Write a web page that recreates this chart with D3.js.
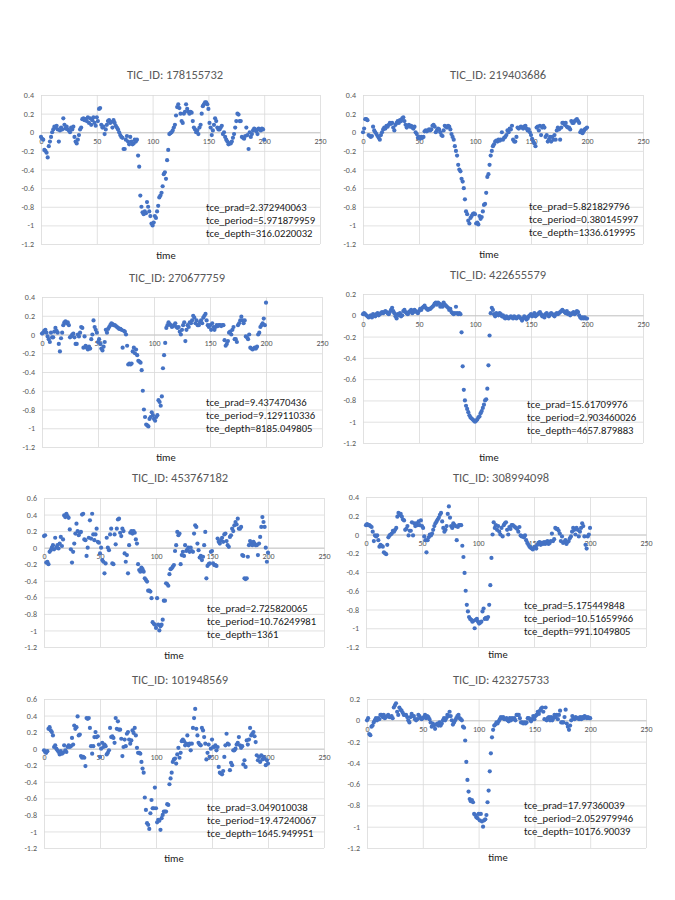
<!DOCTYPE html>
<html>
<head>
<meta charset="utf-8">
<script src="https://cdn.jsdelivr.net/npm/d3@7"></script>
<style>
body { margin: 0; background: #fff; }
text { font-family: Carlito, Calibri, Lato, "Open Sans", sans-serif; }
</style>
</head>
<body>
<script>
// chart data
var ticIds = ["178155732", "219403686", "270677759", "422655579", "453767182", "308994098", "101948569", "423275733"];
var tcePrad = ["2.372940063", "5.821829796", "9.437470436", "15.61709976", "2.725820065", "5.175449848", "3.049010038", "17.97360039"];
var tcePeriod = ["5.971879959", "0.380145997", "9.129110336", "2.903460026", "10.76249981", "10.51659966", "19.47240067", "2.052979946"];
var tceDepth = ["316.0220032", "1336.619995", "8185.049805", "4657.879883", "1361", "991.1049805", "1645.949951", "10176.90039"];

var xTicks = [0, 50, 100, 150, 200, 250];
var yTicks02 = [0.2, 0, -0.2, -0.4, -0.6, -0.8, -1, -1.2];
var yTicks04 = [0.4, 0.2, 0, -0.2, -0.4, -0.6, -0.8, -1, -1.2];
var yTicks06 = [0.6, 0.4, 0.2, 0, -0.2, -0.4, -0.6, -0.8, -1, -1.2];

var flux178155732 = [
  -0.05, -0.07, -0.08, -0.19, -0.2, -0.22, -0.27, -0.15, -0.1, -0.05,
  0.0, 0.03, 0.06, 0.05, 0.07, 0.03, -0.1, 0.02, 0.05, 0.03,
  0.15, 0.08, 0.04, 0.06, 0.03, 0.02, 0.0, 0.05, 0.03, 0.06,
  -0.05, -0.1, -0.12, -0.08, -0.03, 0.03, 0.05, 0.14, 0.15, 0.13,
  0.14, 0.12, 0.16, 0.1, 0.15, 0.08, 0.13, 0.16, 0.1, 0.07,
  0.16, 0.12, 0.25, 0.26, 0.08, 0.05, 0.06, -0.02, 0.03, 0.08,
  0.12, 0.13, 0.1, 0.11, 0.05, 0.13, 0.1, 0.07, 0.05, 0.03,
  0.0, -0.03, -0.05, -0.06, -0.18, -0.18, -0.08, -0.04, -0.1, -0.13,
  -0.05, -0.1, -0.13, -0.12, -0.08, -0.1, -0.08, -0.25, -0.37, -0.68,
  -0.8, -0.86, -0.88, -0.85, -0.87, -0.75, -0.8, -0.85, -0.9, -0.98,
  -1.0, -0.97, -0.9, -0.92, -0.85, -0.79, -0.7, -0.68, -0.65, -0.58,
  -0.45, -0.43, -0.5, -0.3, -0.19, -0.02, -0.01, 0.0, 0.02, 0.05,
  0.08, 0.18, 0.27, 0.3, 0.26, 0.2, 0.12, 0.1, 0.2, 0.22,
  0.3, 0.25, 0.22, 0.2, 0.22, 0.21, 0.12, 0.05, 0.03, 0.0,
  0.02, -0.02, 0.05, 0.08, 0.2, 0.28, 0.3, 0.32, 0.32, 0.3,
  0.25, 0.1, 0.05, -0.03, 0.02, 0.08, 0.15, 0.12, 0.05, 0.03,
  0.03, 0.05, 0.07, -0.02, 0.0, -0.05, -0.08, -0.1, -0.13, -0.12,
  -0.12, -0.1, -0.06, -0.02, 0.05, 0.12, 0.2, 0.19, 0.12, 0.12,
  -0.05, -0.06, -0.07, -0.04, 0.05, -0.03, -0.18, 0.0, -0.05, -0.02,
  0.02, 0.04, 0.03, 0.01, -0.02, 0.04, 0.03, 0.02, 0.04, 0.03,
  -0.08
];

var flux219403686 = [
  0.0, 0.04, 0.14, 0.14, 0.13, -0.03, -0.04, -0.05, -0.04, 0.06,
  0.02, 0.0, -0.02, -0.04, -0.06, -0.08, -0.03, 0.0, 0.03, 0.05,
  0.04, 0.07, 0.06, 0.08, 0.1, 0.09, 0.1, 0.05, 0.02, 0.08,
  0.1, 0.12, 0.1, 0.13, 0.12, 0.15, 0.16, 0.12, 0.08, 0.05,
  0.07, 0.08, 0.06, 0.07, 0.05, 0.04, 0.06, 0.0, -0.02, -0.06,
  -0.05, -0.07, -0.05, -0.06, -0.05, 0.01, 0.02, 0.01, 0.02, 0.03,
  0.02, 0.03, 0.07, 0.08, 0.06, 0.0, 0.02, 0.04, 0.03, 0.0,
  -0.03, -0.04, 0.02, 0.07, 0.06, 0.05, 0.07, 0.06, 0.03, -0.02,
  -0.05, -0.08, -0.15, -0.2, -0.25, -0.35, -0.4, -0.42, -0.5, -0.53,
  -0.6, -0.72, -0.85, -0.88, -0.95, -0.98, -0.92, -0.9, -0.88, -0.87,
  -0.88, -0.98, -0.97, -0.99, -0.9, -0.93, -0.91, -0.85, -0.78, -0.77,
  -0.65, -0.48, -0.45, -0.35, -0.25, -0.2, -0.15, -0.13, -0.1, -0.09,
  -0.1, -0.08, -0.09, -0.08, 0.0, -0.08, -0.06, -0.05, -0.03, 0.02,
  0.0, 0.04, 0.03, 0.07, -0.08, -0.1, -0.1, -0.05, 0.05, 0.04,
  0.05, 0.06, 0.05, 0.04, 0.06, 0.07, 0.04, 0.02, 0.03, 0.0,
  -0.03, -0.07, -0.1, -0.12, -0.15, 0.05, 0.06, 0.02, 0.07, -0.03,
  0.05, 0.07, 0.05, -0.05, -0.03, -0.1, -0.08, -0.05, -0.1, -0.05,
  -0.08, -0.03, -0.08, 0.02, 0.05, 0.03, -0.08, 0.05, 0.1, 0.1,
  0.08, 0.1, 0.06, 0.05, 0.05, 0.03, 0.12, 0.1, 0.1, 0.12,
  0.13, 0.14, 0.12, 0.1, 0.0, 0.02, -0.01, 0.01, 0.03, 0.04,
  0.05
];

var flux270677759 = [
  0.01, 0.02, 0.04, 0.05, 0.02, -0.02, -0.05, -0.08, 0.02, -0.03,
  -0.03, 0.03, 0.07, 0.04, 0.02, -0.1, -0.18, -0.04, 0.02, 0.1,
  0.13, 0.14, 0.12, 0.13, 0.1, -0.03, -0.02, 0.0, 0.01, -0.03,
  -0.1, -0.1, 0.0, -0.02, 0.02, 0.08, 0.07, -0.14, -0.02, -0.12,
  -0.14, -0.16, -0.13, -0.15, -0.05, 0.0, 0.15, 0.08, 0.05, 0.02,
  -0.08, -0.05, -0.1, -0.15, -0.17, -0.13, -0.08, 0.05, 0.02, 0.06,
  0.08, 0.1, 0.12, 0.11, 0.1, 0.1, 0.09, 0.08, 0.07, 0.06,
  0.06, 0.05, -0.14, 0.04, 0.03, 0.0, -0.12, -0.32, -0.31, -0.32,
  -0.31, -0.18, -0.14, -0.2, -0.16, -0.22, -0.28, -0.29, -0.3, -0.38,
  -0.6, -0.8, -0.88, -0.96, -0.97, -0.98, -0.9, -0.88, -0.83, -0.86,
  -0.9, -0.92, -0.88, -0.86, -0.7, -0.72, -0.76, -0.66, -0.36, -0.22,
  -0.09, 0.07, 0.1, 0.13, 0.11, 0.1, 0.08, 0.09, 0.1, 0.12,
  0.08, 0.07, 0.08, 0.03, 0.0, 0.05, 0.1, 0.13, -0.07, 0.05,
  0.1, 0.08, 0.13, 0.12, 0.15, 0.2, 0.18, 0.12, 0.15, 0.1,
  0.1, 0.13, 0.15, 0.12, 0.18, 0.2, 0.22, 0.15, 0.1, 0.08,
  0.1, 0.05, 0.12, 0.08, 0.05, 0.08, 0.1, 0.09, 0.1, 0.1,
  0.09, 0.1, 0.1, -0.06, -0.12, -0.1, -0.07, 0.02, 0.03, 0.0,
  0.05, 0.08, -0.05, -0.05, -0.08, 0.1, 0.12, 0.15, 0.19, 0.15,
  0.12, 0.15, -0.02, -0.03, -0.05, 0.0, -0.14, -0.15, -0.16, -0.15,
  -0.14, -0.15, -0.13, 0.0, 0.02, 0.08, 0.1, 0.12, 0.17, 0.1,
  0.34
];

var flux422655579 = [
  0.01, 0.02, 0.01, 0.0, -0.01, -0.02, -0.01, 0.0, -0.02, 0.01,
  0.0, -0.01, 0.01, 0.02, 0.0, 0.01, 0.02, 0.03, 0.02, 0.03,
  0.04, 0.03, 0.02, 0.01, 0.03, 0.05, 0.07, 0.04, 0.02, -0.01,
  -0.03, 0.01, 0.0, 0.02, -0.01, 0.0, 0.04, 0.05, 0.03, 0.02,
  0.01, 0.03, 0.04, 0.05, 0.02, 0.03, 0.05, 0.04, 0.03, 0.02,
  0.04, 0.06, 0.05, 0.07, 0.08, 0.09, 0.07, 0.06, 0.05, 0.06,
  0.06, 0.07, 0.08, 0.09, 0.11, 0.12, 0.1, 0.12, 0.11, 0.08,
  0.1, 0.08, 0.12, 0.1, 0.09, 0.08, 0.07, 0.05, 0.06, 0.03,
  0.02, 0.01, 0.02, 0.08, 0.02, 0.01, 0.02, 0.01, -0.16, -0.48,
  -0.7, -0.8, -0.85, -0.88, -0.91, -0.94, -0.96, -0.97, -0.98, -0.99,
  -1.0, -0.99, -0.98, -0.96, -0.95, -0.92, -0.9, -0.87, -0.84, -0.8,
  -0.79, -0.69, -0.47, -0.19, 0.02, 0.07, 0.05, 0.01, -0.01, 0.02,
  0.01, 0.0, 0.02, 0.01, -0.01, 0.0, -0.02, -0.03, -0.01, -0.02,
  -0.03, -0.02, -0.01, -0.02, -0.03, -0.01, -0.02, -0.03, -0.02, -0.01,
  -0.02, -0.03, -0.05, -0.03, -0.01, -0.02, -0.04, -0.03, -0.01, 0.0,
  0.01, -0.01, 0.0, 0.02, -0.01, 0.0, 0.01, 0.02, 0.03, 0.01,
  -0.01, 0.0, -0.02, 0.01, 0.02, 0.0, -0.01, 0.01, 0.02, 0.01,
  0.0, -0.01, 0.01, 0.02, 0.01, 0.02, 0.03, 0.04, 0.05, 0.04,
  0.03, 0.02, 0.04, 0.01, 0.02, 0.0, 0.01, 0.02, 0.03, 0.01,
  0.02, 0.04, 0.03, 0.0, -0.02, -0.03, -0.02, -0.03, -0.02, -0.03,
  -0.03
];

var flux453767182 = [
  0.14, 0.15, -0.18, -0.17, -0.2, -0.05, -0.03, 0.0, 0.03, -0.02,
  0.12, 0.0, 0.03, -0.01, 0.05, 0.13, 0.02, 0.1, 0.39, 0.37,
  0.41, 0.38, 0.36, 0.22, -0.02, -0.18, -0.05, 0.05, 0.17, 0.29,
  0.2, 0.15, 0.18, 0.19, 0.4, 0.41, 0.1, 0.09, -0.1, 0.0,
  0.12, 0.33, 0.11, 0.41, 0.16, 0.09, 0.16, 0.23, 0.07, 0.06,
  -0.07, 0.0, -0.15, -0.17, -0.31, -0.19, 0.12, 0.0, -0.03, 0.16,
  0.23, -0.19, -0.2, 0.16, 0.04, 0.23, 0.34, 0.35, 0.18, 0.14,
  0.23, 0.2, -0.07, -0.17, -0.09, -0.31, 0.03, 0.18, 0.2, 0.17,
  0.2, 0.18, 0.1, 0.05, -0.2, -0.27, -0.29, -0.24, -0.26, -0.29,
  -0.37, -0.39, -0.41, -0.52, -0.52, -0.53, -0.61, -0.9, -0.92, -0.93,
  -0.97, -0.61, -0.93, -1.0, -0.95, -0.93, -0.87, -0.64, -0.64, -0.43,
  -0.44, -0.46, -0.32, -0.26, -0.25, -0.23, -0.21, -0.04, 0.03, 0.19,
  0.15, 0.17, -0.2, -0.09, -0.05, -0.1, 0.03, -0.04, -0.02, 0.0,
  -0.05, 0.0, -0.04, -0.05, 0.17, 0.27, 0.25, 0.05, -0.03, -0.12,
  -0.1, -0.15, -0.11, 0.03, 0.19, -0.37, -0.22, -0.2, -0.19, -0.05,
  -0.04, -0.19, -0.21, -0.21, -0.22, 0.11, 0.07, 0.05, 0.09, 0.12,
  0.07, 0.16, 0.17, 0.08, 0.03, 0.01, 0.13, 0.15, 0.23, 0.2,
  0.27, 0.31, 0.28, 0.35, 0.23, 0.23, 0.25, -0.09, -0.1, -0.37,
  -0.38, -0.37, -0.11, 0.03, 0.08, 0.05, 0.03, 0.07, 0.05, 0.03,
  0.03, -0.09, 0.05, 0.13, 0.25, 0.37, 0.31, 0.25, 0.0, -0.17,
  -0.06
];

var flux308994098 = [
  0.1, 0.11, 0.1, 0.1, 0.09, 0.08, 0.03, -0.07, -0.01, -0.02,
  -0.01, -0.06, -0.13, -0.11, -0.12, -0.13, -0.19, -0.2, -0.21, -0.11,
  -0.03, -0.01, 0.0, 0.01, 0.04, 0.03, 0.05, 0.07, 0.19, 0.23,
  0.21, 0.22, 0.19, 0.16, 0.15, 0.05, 0.06, 0.09, -0.01, 0.04,
  0.04, 0.13, -0.01, 0.12, 0.09, 0.12, 0.1, 0.14, 0.1, 0.15,
  0.09, 0.07, -0.02, -0.06, -0.19, -0.06, -0.03, 0.0, -0.01, 0.01,
  0.05, 0.09, 0.12, 0.14, 0.16, 0.18, 0.21, 0.23, 0.14, 0.07,
  0.03, 0.05, 0.09, 0.22, 0.3, 0.18, 0.09, 0.07, 0.12, 0.1,
  0.09, -0.06, 0.08, 0.1, 0.1, 0.1, -0.12, -0.24, -0.41, -0.6,
  -0.75, -0.82, -0.88, -0.9, -0.91, -0.93, -0.92, -1.0, -0.91, -0.9,
  -0.93, -0.95, -0.94, -0.93, -0.82, -0.79, -0.9, -0.89, -0.9, -0.88,
  -0.75, -0.54, -0.25, 0.0, 0.13, 0.07, 0.1, 0.05, 0.09, 0.03,
  0.0, 0.07, -0.02, 0.1, 0.12, 0.13, 0.05, 0.0, 0.08, 0.06,
  0.1, 0.1, 0.09, 0.08, 0.07, 0.06, 0.03, 0.08, -0.01, -0.02,
  -0.02, -0.03, -0.01, -0.06, -0.09, -0.11, -0.13, -0.14, -0.15, -0.16,
  -0.14, -0.13, -0.15, -0.11, -0.09, -0.08, -0.11, -0.09, -0.1, -0.08,
  -0.1, -0.08, -0.07, -0.1, -0.09, -0.07, 0.01, -0.07, -0.05, 0.07,
  0.06, 0.06, 0.04, 0.01, -0.07, -0.02, -0.09, -0.08, -0.06, -0.1,
  -0.08, -0.07, -0.04, -0.02, 0.03, 0.07, 0.05, 0.0, 0.07, 0.05,
  -0.02, 0.03, 0.07, 0.12, 0.09, -0.02, -0.11, -0.15, -0.02, 0.0,
  0.07
];

var flux101948569 = [
  -0.02, -0.04, -0.05, -0.03, 0.24, 0.26, 0.22, 0.2, 0.16, 0.02,
  0.04, 0.0, -0.02, -0.04, -0.07, -0.03, -0.06, -0.05, 0.04, -0.02,
  -0.04, 0.02, 0.04, 0.02, 0.03, 0.13, 0.05, 0.28, 0.24, 0.26,
  0.39, 0.16, 0.17, -0.09, -0.11, -0.1, -0.11, -0.21, 0.37, 0.36,
  0.37, 0.25, 0.03, -0.06, 0.03, 0.14, 0.2, 0.14, 0.15, 0.05,
  -0.1, 0.0, 0.07, 0.02, 0.05, 0.03, -0.07, -0.05, -0.02, 0.25,
  0.14, 0.15, 0.13, 0.07, 0.37, 0.24, 0.33, 0.23, 0.23, 0.12,
  -0.09, 0.02, 0.11, 0.03, 0.18, 0.2, 0.11, 0.06, 0.1, 0.22,
  0.19, 0.25, 0.16, 0.01, -0.05, -0.05, -0.06, -0.16, -0.24, -0.29,
  -0.59, -0.74, -0.9, -0.92, -0.97, -0.78, -0.62, -0.72, -0.72, -0.47,
  -0.72, -0.89, -0.86, -0.87, -0.98, -0.84, -0.8, -0.76, -0.76, -0.76,
  -0.67, -0.68, -0.43, -0.36, -0.29, -0.16, -0.13, -0.12, -0.18, -0.07,
  0.01, -0.11, -0.05, 0.09, 0.11, 0.09, 0.04, 0.06, 0.16, 0.04,
  0.06, -0.02, 0.06, 0.25, 0.37, 0.48, 0.24, 0.16, 0.07, 0.05,
  0.04, 0.25, 0.22, 0.14, 0.06, -0.13, -0.05, 0.05, -0.1, 0.0,
  0.11, 0.02, 0.02, 0.04, -0.02, 0.02, -0.22, -0.29, -0.3, -0.31,
  -0.27, -0.1, 0.04, 0.18, 0.06, 0.05, -0.26, -0.17, -0.2, -0.02,
  -0.02, 0.0, 0.05, 0.07, 0.14, 0.04, 0.01, 0.03, -0.19, -0.14,
  -0.22, 0.1, 0.05, 0.11, 0.25, 0.16, 0.18, 0.2, 0.15, 0.08,
  -0.08, -0.14, -0.1, -0.16, -0.08, -0.13, -0.1, -0.12, -0.2, -0.14,
  -0.18
];

var flux423275733 = [
  0.0, 0.02, -0.13, -0.14, -0.06, -0.05, -0.02, 0.0, 0.02, 0.0,
  0.02, 0.01, 0.05, 0.05, 0.03, 0.05, 0.02, 0.03, 0.04, 0.05,
  0.03, 0.03, 0.04, 0.02, 0.12, 0.14, 0.16, 0.08, 0.05, 0.12,
  0.1, 0.09, 0.07, 0.05, 0.05, 0.05, 0.03, 0.0, -0.02, 0.03,
  0.06, 0.04, 0.04, 0.01, 0.0, 0.01, 0.05, 0.04, 0.02, 0.01,
  0.02, 0.03, 0.05, 0.02, 0.04, 0.03, 0.01, -0.02, -0.06, -0.03,
  -0.05, -0.08, -0.04, -0.03, -0.05, -0.02, -0.05, -0.03, 0.0, 0.02,
  0.0, 0.02, 0.05, 0.04, 0.08, 0.04, 0.0, -0.04, -0.02, 0.0,
  0.02, 0.04, 0.05, 0.02, 0.01, 0.0, -0.06, -0.07, -0.19, -0.39,
  -0.56, -0.67, -0.74, -0.76, -0.75, -0.77, -0.88, -0.89, -0.91, -0.92,
  -0.88, -0.94, -0.88, -0.95, -1.0, -0.94, -0.93, -0.89, -0.77, -0.66,
  -0.48, -0.31, -0.16, -0.09, -0.05, -0.04, -0.02, -0.03, -0.01, 0.01,
  0.03, 0.02, 0.03, 0.01, 0.01, 0.02, 0.0, -0.01, 0.02, 0.0,
  0.02, 0.01, 0.02, 0.0, 0.05, 0.05, 0.05, 0.02, -0.02, -0.02,
  -0.03, -0.02, -0.03, -0.02, 0.02, 0.02, 0.01, -0.01, 0.01, 0.04,
  0.01, 0.04, 0.05, 0.08, 0.06, 0.09, 0.11, 0.12, 0.08, 0.01,
  0.12, 0.0, 0.02, 0.03, 0.0, 0.03, 0.0, 0.02, 0.05, 0.03,
  0.05, 0.01, 0.05, 0.09, -0.02, -0.02, -0.02, 0.03, 0.1, -0.03,
  -0.06, -0.09, -0.05, 0.0, 0.04, 0.02, 0.01, 0.03, 0.02, 0.02,
  0.01, 0.03, 0.01, 0.03, 0.02, 0.04, 0.03, 0.02, 0.03, 0.02,
  0.02
];

var fluxes = [flux178155732, flux219403686, flux270677759, flux422655579,
              flux453767182, flux308994098, flux101948569, flux423275733];
var yTickSets = [yTicks04, yTicks04, yTicks04, yTicks02, yTicks06, yTicks04, yTicks06, yTicks02];

// where each little chart sits on the page
var boxes = [
  {left: 41, right: 320, top: 95, bottom: 244, titleX: 175, titleY: 79, timeX: 166, timeY: 259, noteX: 206, noteY: 211},
  {left: 363, right: 643, top: 95, bottom: 244, titleX: 498, titleY: 79, timeX: 489, timeY: 258, noteX: 529, noteY: 210},
  {left: 42, right: 322, top: 297, bottom: 447, titleX: 177, titleY: 282, timeX: 166, timeY: 461, noteX: 206, noteY: 406},
  {left: 363, right: 643, top: 294, bottom: 443, titleX: 498, titleY: 279, timeX: 489, timeY: 461, noteX: 527, noteY: 408},
  {left: 44, right: 324, top: 498, bottom: 647, titleX: 180, titleY: 482, timeX: 174, timeY: 659, noteX: 207, noteY: 612},
  {left: 366, right: 646, top: 497, bottom: 647, titleX: 501, titleY: 482, timeX: 498, timeY: 658, noteX: 524, noteY: 609},
  {left: 44, right: 324, top: 699, bottom: 848, titleX: 180, titleY: 684, timeX: 174, timeY: 862, noteX: 207, noteY: 811},
  {left: 367, right: 646, top: 699, bottom: 848, titleX: 501, titleY: 684, timeX: 498, timeY: 861, noteX: 524, noteY: 809}
];

var dotColor = "#4472C4";
var gridColor = "#d9d9d9";
var labelColor = "#595959";

var svg = d3.select("body").append("svg")
    .attr("width", 675)
    .attr("height", 900)
    .style("background", "#fff");

var fmt = function(d) { return String(+d.toFixed(1)); };

boxes.forEach(function(b, i) {
    var ticks = yTickSets[i];
    var data = fluxes[i];

    var x = d3.scaleLinear().domain([0, 250]).range([b.left, b.right]);
    var y = d3.scaleLinear().domain([d3.min(ticks), d3.max(ticks)]).range([b.bottom, b.top]);

    var g = svg.append("g");

    // horizontal grid + y labels
    var yAxis = g.append("g")
        .attr("transform", "translate(" + b.left + ",0)")
        .call(d3.axisLeft(y).tickValues(ticks).tickSize(-(b.right - b.left)).tickPadding(7).tickFormat(fmt));
    yAxis.select(".domain").remove();
    yAxis.selectAll("line").attr("stroke", gridColor).attr("stroke-width", 0.8);
    yAxis.selectAll("text").attr("fill", labelColor).style("font-size", "8px")
        .style("font-family", "Carlito, Calibri, Lato, sans-serif");

    // vertical grid
    var xGrid = g.append("g")
        .attr("transform", "translate(0," + b.bottom + ")")
        .call(d3.axisBottom(x).tickValues(xTicks).tickSize(-(b.bottom - b.top)).tickFormat(""));
    xGrid.select(".domain").remove();
    xGrid.selectAll("line").attr("stroke", gridColor).attr("stroke-width", 0.8);

    // horizontal axis sitting on zero
    var xAxis = g.append("g")
        .attr("transform", "translate(0," + y(0) + ")")
        .call(d3.axisBottom(x).tickValues(xTicks).tickSize(0).tickPadding(6));
    xAxis.select(".domain").attr("stroke", "#bfbfbf").attr("stroke-width", 0.8);
    xAxis.selectAll("text").attr("fill", labelColor).style("font-size", "8px")
        .style("font-family", "Carlito, Calibri, Lato, sans-serif");

    // points
    g.append("g").selectAll("circle")
        .data(data)
        .enter().append("circle")
        .attr("cx", function(d, j) { return x(j); })
        .attr("cy", function(d) { return y(d); })
        .attr("r", 2.1)
        .attr("fill", dotColor);

    // title
    g.append("text")
        .attr("x", b.titleX)
        .attr("y", b.titleY)
        .attr("text-anchor", "middle")
        .attr("fill", labelColor)
        .style("font-size", "12.5px")
        .text("TIC_ID: " + ticIds[i]);

    // axis title
    g.append("text")
        .attr("x", b.timeX)
        .attr("y", b.timeY)
        .attr("text-anchor", "middle")
        .attr("fill", "#1a1a1a")
        .style("font-size", "10.5px")
        .text("time");

    // parameters note
    var lines = ["tce_prad=" + tcePrad[i], "tce_period=" + tcePeriod[i], "tce_depth=" + tceDepth[i]];
    g.append("g").selectAll("text")
        .data(lines)
        .enter().append("text")
        .attr("x", b.noteX)
        .attr("y", function(d, k) { return b.noteY + k * 13; })
        .attr("fill", "#1a1a1a")
        .style("font-size", "10.7px")
        .text(function(d) { return d; });
});
</script>
</body>
</html>
